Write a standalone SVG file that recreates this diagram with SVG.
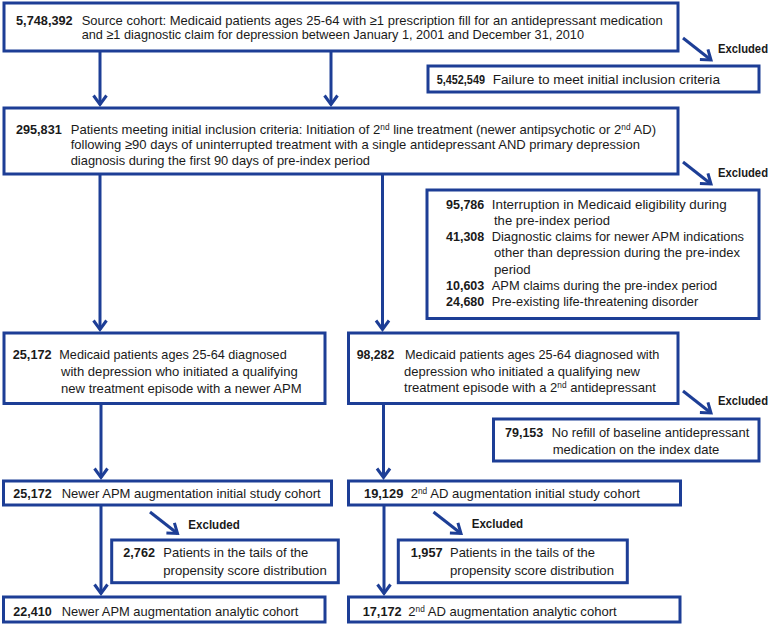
<svg xmlns="http://www.w3.org/2000/svg" width="771" height="625" viewBox="0 0 771 625">
<defs>
<style>
.box{fill:#ffffff;stroke:#1d3e96;stroke-width:3}
.t{font-family:"Liberation Sans",Arial,sans-serif;font-size:13.4px;fill:#1a1a1a}
.n{font-family:"Liberation Sans",Arial,sans-serif;font-size:13px;font-weight:bold;fill:#1a1a1a}
.x{font-family:"Liberation Sans",Arial,sans-serif;font-size:12.2px;font-weight:bold;fill:#1a1a1a}
.s{font-size:8.5px;baseline-shift:4.5px}
.c{stroke:#1d3e96;stroke-width:3;fill:none;marker-end:url(#ah)}
</style>
<marker id="ah" markerUnits="userSpaceOnUse" markerWidth="24" markerHeight="24" viewBox="-12 -12 24 24" refX="0" refY="0" orient="auto" overflow="visible">
<path d="M-9,-6.5 L0,0 L-9,6.5" fill="none" stroke="#1d3e96" stroke-width="3"/>
</marker>
</defs>

<g id="connectors">
<line class="c" x1="100" y1="51" x2="100" y2="104.5"/>
<line class="c" x1="331" y1="51" x2="331" y2="104.5"/>
<line class="c" x1="100" y1="174" x2="100" y2="329.5"/>
<line class="c" x1="382.5" y1="174" x2="382.5" y2="329.5"/>
<line class="c" x1="101" y1="404" x2="101" y2="477.5"/>
<line class="c" x1="383.5" y1="404" x2="383.5" y2="477.5"/>
<line class="c" x1="101" y1="505" x2="101" y2="593.5"/>
<line class="c" x1="384" y1="505" x2="384" y2="593.5"/>
<line class="c" x1="683" y1="38" x2="711" y2="60"/>
<line class="c" x1="683" y1="162" x2="711" y2="184"/>
<line class="c" x1="683" y1="391" x2="711" y2="413"/>
<line class="c" x1="150" y1="512" x2="177.5" y2="533.5"/>
<line class="c" x1="433.5" y1="512" x2="461" y2="533.5"/>
</g>

<g id="excluded-labels">
<text class="x" x="718" y="52.5" textLength="50" lengthAdjust="spacingAndGlyphs">Excluded</text>
<text class="x" x="718" y="176.5" textLength="50" lengthAdjust="spacingAndGlyphs">Excluded</text>
<text class="x" x="718" y="404.5" textLength="50" lengthAdjust="spacingAndGlyphs">Excluded</text>
<text class="x" x="188.3" y="529" textLength="51.5" lengthAdjust="spacingAndGlyphs">Excluded</text>
<text class="x" x="471.7" y="528" textLength="51.5" lengthAdjust="spacingAndGlyphs">Excluded</text>
</g>

<g id="source-cohort">
<rect class="box" x="4" y="3" width="674" height="48"/>
<text class="n" x="16" y="25" textLength="56.7" lengthAdjust="spacingAndGlyphs">5,748,392</text>
<text class="t" x="81.7" y="25" textLength="581" lengthAdjust="spacingAndGlyphs">Source cohort: Medicaid patients ages 25-64 with ≥1 prescription fill for an antidepressant medication</text>
<text class="t" x="81.7" y="39" textLength="502.3" lengthAdjust="spacingAndGlyphs">and ≥1 diagnostic claim for depression between January 1, 2001 and December 31, 2010</text>
</g>

<g id="excluded-1">
<rect class="box" x="428" y="66" width="331" height="26"/>
<text class="n" x="436.7" y="84" textLength="48.3" lengthAdjust="spacingAndGlyphs">5,452,549</text>
<text class="t" x="492.7" y="84" textLength="227.3" lengthAdjust="spacingAndGlyphs">Failure to meet initial inclusion criteria</text>
</g>

<g id="initial-inclusion">
<rect class="box" x="4" y="108" width="674" height="66"/>
<text class="n" x="16" y="134" textLength="45.7" lengthAdjust="spacingAndGlyphs">295,831</text>
<text class="t" x="70.7" y="134" textLength="585.3" lengthAdjust="spacingAndGlyphs">Patients meeting initial inclusion criteria: Initiation of 2<tspan class="s">nd</tspan> line treatment (newer antipsychotic or 2<tspan class="s">nd</tspan> AD)</text>
<text class="t" x="70.7" y="149" textLength="569.3" lengthAdjust="spacingAndGlyphs">following ≥90 days of uninterrupted treatment with a single antidepressant AND primary depression</text>
<text class="t" x="70.7" y="164.5" textLength="299.3" lengthAdjust="spacingAndGlyphs">diagnosis during the first 90 days of pre-index period</text>
</g>

<g id="excluded-2">
<rect class="box" x="427" y="190" width="332" height="128.5"/>
<text class="n" x="446" y="208.5" textLength="38.3" lengthAdjust="spacingAndGlyphs">95,786</text>
<text class="t" x="491.7" y="208.5" textLength="235" lengthAdjust="spacingAndGlyphs">Interruption  in Medicaid eligibility during</text>
<text class="t" x="494" y="224.8" textLength="116" lengthAdjust="spacingAndGlyphs">the pre-index period</text>
<text class="n" x="446" y="241.1" textLength="38.3" lengthAdjust="spacingAndGlyphs">41,308</text>
<text class="t" x="491.7" y="241.1" textLength="252.3" lengthAdjust="spacingAndGlyphs">Diagnostic claims for newer APM indications</text>
<text class="t" x="494" y="257.4" textLength="246" lengthAdjust="spacingAndGlyphs">other than depression during the pre-index</text>
<text class="t" x="494" y="273.7" textLength="36.7" lengthAdjust="spacingAndGlyphs">period</text>
<text class="n" x="446" y="290" textLength="38.3" lengthAdjust="spacingAndGlyphs">10,603</text>
<text class="t" x="491.7" y="290" textLength="225.6" lengthAdjust="spacingAndGlyphs">APM claims during the pre-index period</text>
<text class="n" x="446" y="306.3" textLength="38.3" lengthAdjust="spacingAndGlyphs">24,680</text>
<text class="t" x="491.7" y="306.3" textLength="206.6" lengthAdjust="spacingAndGlyphs">Pre-existing life-threatening disorder</text>
</g>

<g id="apm-episode">
<rect class="box" x="4" y="333" width="321" height="70.5"/>
<text class="n" x="12.7" y="359" textLength="39" lengthAdjust="spacingAndGlyphs">25,172</text>
<text class="t" x="59.3" y="359" textLength="227.4" lengthAdjust="spacingAndGlyphs">Medicaid patients ages 25-64 diagnosed</text>
<text class="t" x="61" y="376" textLength="236.7" lengthAdjust="spacingAndGlyphs">with depression who initiated a qualifying</text>
<text class="t" x="61" y="392.8" textLength="240.7" lengthAdjust="spacingAndGlyphs">new treatment episode with a newer APM</text>
</g>

<g id="ad-episode">
<rect class="box" x="348.5" y="333" width="329.5" height="70.5"/>
<text class="n" x="356.7" y="359" textLength="37.6" lengthAdjust="spacingAndGlyphs">98,282</text>
<text class="t" x="405" y="359" textLength="254.3" lengthAdjust="spacingAndGlyphs">Medicaid patients ages 25-64 diagnosed with</text>
<text class="t" x="404" y="375.5" textLength="236" lengthAdjust="spacingAndGlyphs">depression who initiated a qualifying new</text>
<text class="t" x="404" y="392" textLength="252" lengthAdjust="spacingAndGlyphs">treatment episode with a 2<tspan class="s">nd</tspan> antidepressant</text>
</g>

<g id="excluded-3">
<rect class="box" x="493.5" y="419" width="265.5" height="42"/>
<text class="n" x="505" y="437" textLength="38.3" lengthAdjust="spacingAndGlyphs">79,153</text>
<text class="t" x="551.7" y="437" textLength="197.6" lengthAdjust="spacingAndGlyphs">No refill of baseline antidepressant</text>
<text class="t" x="552.7" y="454" textLength="166.6" lengthAdjust="spacingAndGlyphs">medication on the index date</text>
</g>

<g id="apm-initial">
<rect class="box" x="3.5" y="481" width="328" height="24"/>
<text class="n" x="13.3" y="498" textLength="38.4" lengthAdjust="spacingAndGlyphs">25,172</text>
<text class="t" x="61.7" y="498" textLength="259" lengthAdjust="spacingAndGlyphs">Newer APM augmentation initial study cohort</text>
</g>

<g id="ad-initial">
<rect class="box" x="348.5" y="481" width="332" height="24"/>
<text class="n" x="364" y="498" textLength="39.3" lengthAdjust="spacingAndGlyphs">19,129</text>
<text class="t" x="410.7" y="498" textLength="229.3" lengthAdjust="spacingAndGlyphs">2<tspan class="s">nd</tspan> AD augmentation initial study cohort</text>
</g>

<g id="excluded-4">
<rect class="box" x="111.7" y="540" width="226.6" height="42.7"/>
<text class="n" x="123.3" y="557" textLength="31.7" lengthAdjust="spacingAndGlyphs">2,762</text>
<text class="t" x="163.3" y="557" textLength="145" lengthAdjust="spacingAndGlyphs">Patients in the tails of the</text>
<text class="t" x="163.3" y="574.5" textLength="163.4" lengthAdjust="spacingAndGlyphs">propensity score distribution</text>
</g>

<g id="excluded-5">
<rect class="box" x="398.3" y="540" width="229" height="42.7"/>
<text class="n" x="410.7" y="557" textLength="32" lengthAdjust="spacingAndGlyphs">1,957</text>
<text class="t" x="450" y="557" textLength="145" lengthAdjust="spacingAndGlyphs">Patients in the tails of the</text>
<text class="t" x="450" y="574.5" textLength="164" lengthAdjust="spacingAndGlyphs">propensity score distribution</text>
</g>

<g id="apm-analytic">
<rect class="box" x="3.5" y="597" width="321.5" height="25"/>
<text class="n" x="13.3" y="615.5" textLength="38.4" lengthAdjust="spacingAndGlyphs">22,410</text>
<text class="t" x="61.7" y="615.5" textLength="236.6" lengthAdjust="spacingAndGlyphs">Newer APM augmentation analytic cohort</text>
</g>

<g id="ad-analytic">
<rect class="box" x="348.5" y="597" width="331.5" height="25"/>
<text class="n" x="362.7" y="615.5" textLength="39" lengthAdjust="spacingAndGlyphs">17,172</text>
<text class="t" x="408.3" y="615.5" textLength="208.4" lengthAdjust="spacingAndGlyphs">2<tspan class="s">nd</tspan> AD augmentation analytic cohort</text>
</g>
</svg>
